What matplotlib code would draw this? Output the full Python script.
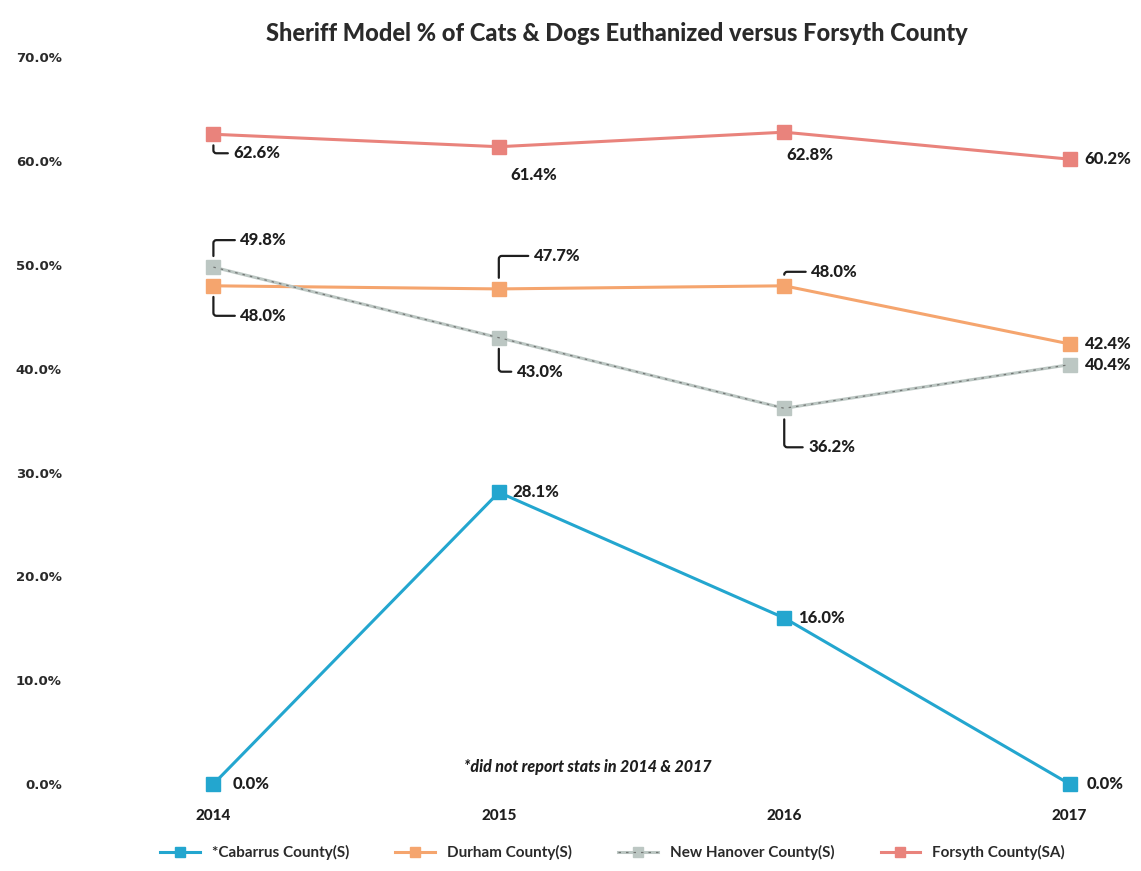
import matplotlib.pyplot as plt

years = ["2014", "2015", "2016", "2017"]

cabarrus = [0.0, 28.1, 16.0, 0.0]
durham = [48.0, 47.7, 48.0, 42.4]
new_hanover = [49.8, 43.0, 36.2, 40.4]
forsyth = [62.6, 61.4, 62.8, 60.2]

series_names = ["*Cabarrus County(S)", "Durham County(S)",
                "New Hanover County(S)", "Forsyth County(SA)"]
yticks = [0, 10, 20, 30, 40, 50, 60, 70]

# label offsets in pixels (dx, dy) and whether a leader line is drawn
cab_offsets = [(19, 0, False), (14, 0, False), (14, 0, False), (17, 0, False)]
dur_offsets = [(27, -30, True), (35, 33, True), (27, 14, True), (15, 0, False)]
nh_offsets = [(27, 27, True), (18, -34, True), (24, -39, True), (15, 0, False)]
for_offsets = [(20, -19, True), (12, -28, False), (2, -23, False), (15, 0, False)]

colors = ["#23A6CF", "#F5A56E", "#BCC7C3", "#E9837C"]
label_font = "Lato"
ink = "#1E1E1E"

fig = plt.figure(figsize=(11.41, 8.71), dpi=100)
ax = fig.add_axes([0.137, 0.076, 0.838, 0.864])

x = list(range(len(years)))
handles = []
for vals, col, name in zip([cabarrus, durham, new_hanover, forsyth], colors, series_names):
    ln, = ax.plot(x, vals, color=col, lw=2.2, marker="s", markersize=10,
                  markeredgecolor=col, label=name, zorder=3)
    handles.append(ln)

# faint dark dashes along the New Hanover line
dash, = ax.plot(x, new_hanover, color="#555555", lw=0.9, dashes=(2, 4), alpha=0.7, zorder=3)
handles[2] = (handles[2], dash)


def label_points(vals, offsets):
    for xi, v, (dx, dy, leader) in zip(x, vals, offsets):
        txt = f"{v:.1f}%"
        kw = dict(xy=(xi, v), xytext=(dx, dy), textcoords="offset pixels",
                  ha="left", va="center", fontsize=12, fontweight="black",
                  family=label_font, color=ink, zorder=5)
        if leader:
            kw["arrowprops"] = dict(arrowstyle="-", color=ink, lw=1.6,
                                    shrinkA=2, shrinkB=8,
                                    connectionstyle="angle,angleA=0,angleB=90,rad=3")
        ax.annotate(txt, **kw)


label_points(cabarrus, cab_offsets)
label_points(durham, dur_offsets)
label_points(new_hanover, nh_offsets)
label_points(forsyth, for_offsets)

ax.set_xlim(-0.2, 3.15)
ax.set_ylim(-2, 70.5)
ax.set_xticks(x)
ax.set_xticklabels(years, fontsize=11, fontweight="black", family=label_font, color=ink)
ax.set_yticks(yticks)
ax.set_yticklabels([f"{v:.1f}%" for v in yticks], fontsize=9.5, fontweight="bold",
                   family="DejaVu Sans", color="#2A2A2A")
ax.tick_params(axis="y", length=0, pad=68)
ax.tick_params(axis="x", length=0, pad=3)
for s in ax.spines.values():
    s.set_visible(False)

ax.text(1.31, 1.6, "*did not report stats in 2014 & 2017", ha="center", va="center",
        fontsize=11.5, fontweight="black", style="italic", family=label_font, color=ink)

fig.text(0.541, 0.962, "Sheriff Model % of Cats & Dogs Euthanized versus Forsyth County",
         ha="center", va="center", fontsize=17, fontweight="black", family=label_font,
         color="#2A2A2A")

fig.legend(handles, series_names, loc="center", bbox_to_anchor=(0.537, 0.021), ncol=4,
           frameon=False, markerscale=0.7, handlelength=2.6, columnspacing=3.0,
           prop={"family": label_font, "weight": "bold", "size": 11},
           labelcolor="#2A2A2A")

fig.savefig("out.png", dpi=100)
